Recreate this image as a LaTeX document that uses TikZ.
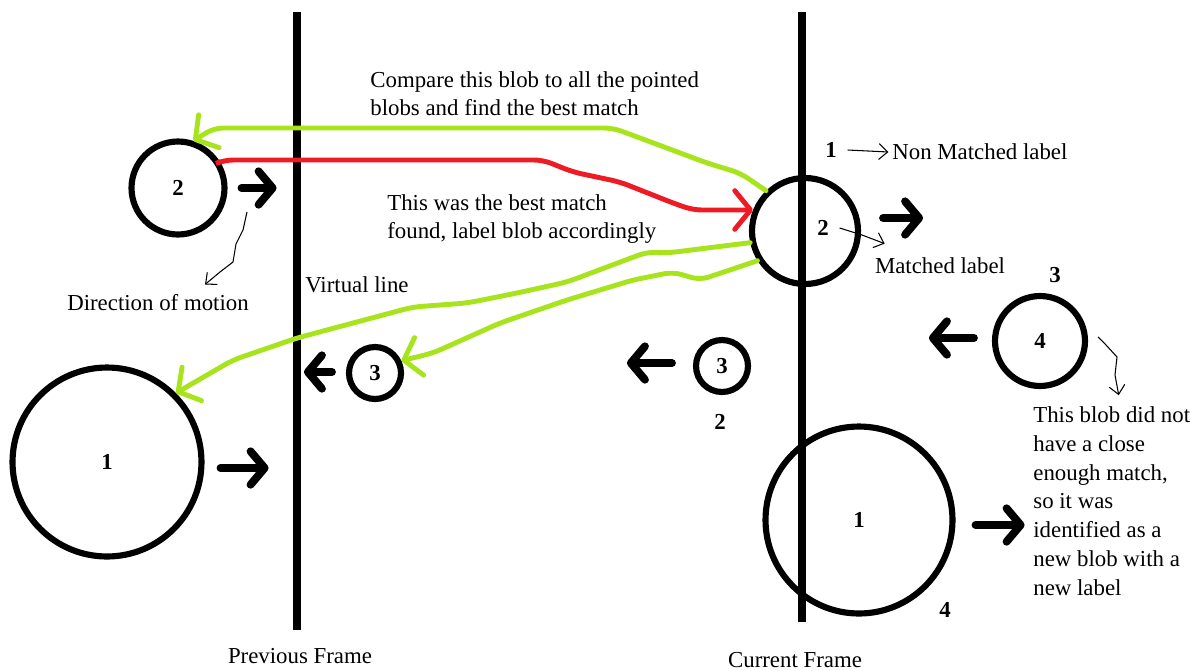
\documentclass[tikz,border=0pt]{standalone}
\usepackage{fontspec}
\setmainfont{Liberation Serif}
\usetikzlibrary{
    arrows.meta,
    positioning,
    calc
}
\tikzset{
  blob/.style    = {circle, draw, line width=3.5pt, inner sep=0pt,
                    font=\fontsize{13}{16}\selectfont\bfseries},
  num/.style     = {inner sep=0pt, font=\fontsize{13}{16}\selectfont\bfseries},
  txt/.style     = {inner sep=0pt, align=left},
  frameline/.style = {line width=4pt},
  motion/.style  = {-{Straight Barb[round,length=8pt,width=19pt]}, line width=4.5pt, line cap=round},
  cand/.style    = {-{Straight Barb[round,length=9pt,width=22pt]}, draw=LimeMark,
                    line width=2.8pt, rounded corners=5pt, line cap=round},
  best/.style    = {cand, draw=PaintRed},
  thinarr/.style = {-{Straight Barb[length=5pt,width=9pt]}, line width=0.6pt}
}
\definecolor{LimeMark}{RGB}{168,228,30}
\definecolor{PaintRed}{RGB}{237,28,36}

\begin{document}
\begin{tikzpicture}[x=0.02cm, y=-0.02cm, font=\fontsize{13}{16}\selectfont]
\useasboundingbox (0,0) rectangle (1199,670);
\coordinate (prevTop) at (297,12);
\coordinate (prevBot) at (297,630);
\coordinate (curTop) at (802,12);
\coordinate (curBot) at (802,622);
\draw[frameline] (prevTop) -- (prevBot);
\draw[frameline] (curTop) -- (curBot);
\node (prevLbl) at (300,656) {Previous Frame};
\node (curLbl) at (795,660) {Current Frame};
\node[txt, anchor=west] (virtLbl) at (305,285) {Virtual line};

\node[blob, minimum size=1.86cm] (prevTwo) at (178,188) {2};
\node[blob, minimum size=3.78cm] (prevOne) at (107,462) {1};
\node[blob, minimum size=1.04cm] (prevThree) at (375,373) {3};
\node[blob, minimum size=1.04cm] (curThree) at (722,366) {3};
\node[blob, minimum size=2.12cm] (curTwo) at (805,231) {};
\node[blob, minimum size=1.80cm] (curFour) at (1040,341) {4};
\node[blob, minimum size=3.74cm] (curOne) at (859,520) {1};

\node[num] (curTwoNum) at (823,228) {2};
\node[num] (curThreeOld) at (720,422) {2};
\node[num] (curFourOld) at (1055,275) {3};
\node[num] (curOneOld) at (945,610) {4};
\node[num] (nonOne) at (831,150) {1};
\node[txt, anchor=west] (nonLbl) at (892,152) {Non Matched label};
\node[txt] (matchedLbl) at (940,266) {Matched label};
\node[txt] (dirLbl) at (158,303) {Direction of motion};
\node[txt, anchor=west] (cmpTxt) at (370,94) {Compare this blob to all the pointed\\blobs and find the best match};
\node[txt, anchor=west] (bestTxt) at (387,219) {This was the best match\\found, label blob accordingly};
\node[txt, anchor=west, font=\fontsize{13}{16.4}\selectfont] (newTxt) at (1033,501)
  {This blob did not\\have a close\\enough match,\\so it was\\identified as a\\new blob with a\\new label};

\draw[motion] ($(prevTwo.east)+(14,0)$) -- ++(35,0);
\draw[motion] ($(prevOne.east)+(16,6)$) -- ++(48,0);
\draw[motion] ($(prevThree.west)+(-14,-1)$) -- ++(-28,0);
\draw[motion] ($(curThree.west)+(-21,-3)$) -- ++(-45,0);
\draw[motion] ($(curTwo.east)+(22,-13)$) -- ++(40,0);
\draw[motion] ($(curFour.west)+(-18,-3)$) -- ++(-45,0);
\draw[motion] ($(curOne.east)+(20,5)$) -- ++(49,0);

\draw[cand] (curTwo.134) -- (740,173) -- (707,163) -- (640,138) -- (613,128) -- (214,128)
  -- (prevTwo.72);
\draw[best] (prevTwo.32) -- (224,160) -- (543,160) -- (573,172) -- (620,182)
  -- (673,203) -- (693,210) -- (curTwo.158);
\draw[cand] (curTwo.192) -- (667,253) -- (647,252) -- (567,282) -- (517,293) -- (467,303)
  -- (413,307) -- (297,338) -- (233,360) -- (prevOne.45);
\draw[cand] (curTwo.212) -- (700,280) -- (673,272) -- (633,280) -- (567,300) -- (500,323)
  -- (433,353) -- (prevThree.25);

\coordinate (dirStart) at (247,212);
\draw[thinarr] (dirStart) -- (243,230) -- (236,244) -- (233,262) -- (220,272)
  -- ($(dirLbl.north)+(47,-10)$);
\draw[thinarr] ([xshift=6pt]nonOne.east) -- ([xshift=-2pt]nonLbl.west);
\draw[thinarr] ([xshift=6pt]curTwoNum.east) -- (862,235) -- ($(matchedLbl.north west)+(10,-14)$);
\draw[thinarr] ($(curFour.east)+(10,-4)$) -- (1106,345) -- (1117,357) -- (1115,375)
  -- ($(newTxt.north)+(7,-11)$);
\end{tikzpicture}
\end{document}
